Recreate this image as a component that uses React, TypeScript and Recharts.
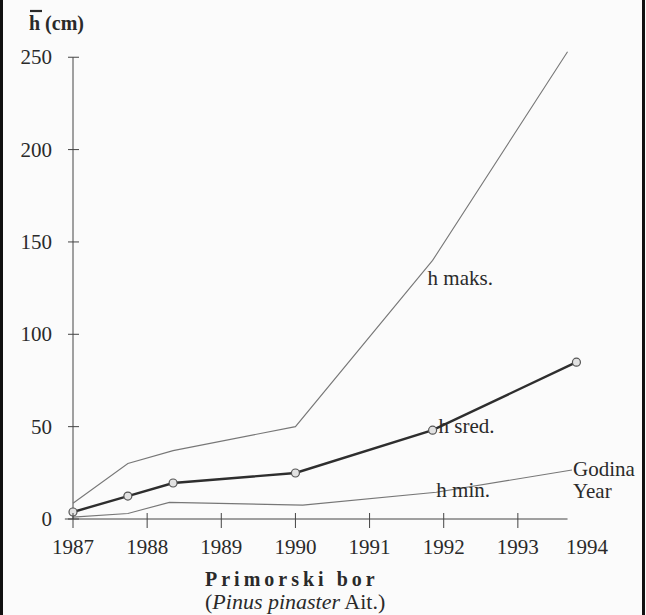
import { LineChart, Line, XAxis, YAxis, ReferenceLine, LabelList } from "recharts";

// h maks.
const maksYears = [1987, 1987.74, 1988.35, 1990, 1991.85, 1993.67];
const maksValues = [8.5, 30, 37, 50, 140, 253];
// h sred.
const sredYears = [1987, 1987.74, 1988.35, 1990, 1991.85, 1993.79];
const sredValues = [3.8, 12.4, 19.5, 24.9, 48.1, 84.9];
// h min.
const minYears = [1987, 1987.74, 1988.3, 1990.1, 1991.9, 1993.73];
const minValues = [1, 3, 9, 7.5, 14.5, 26.5];

const xTicks = [1987, 1988, 1989, 1990, 1991, 1992, 1993, 1994];
const yTicks = [0, 50, 100, 150, 200, 250];

const toRows = (xs: number[], ys: number[]) => xs.map((x, i) => ({ year: x, h: ys[i] }));
const maksData = toRows(maksYears, maksValues);
const sredData = toRows(sredYears, sredValues);
const minData = toRows(minYears, minValues);

const FONT = "'Liberation Serif', 'Times New Roman', serif";
const INK = "#2a2a2a";

const XTick = (props: any) => {
  const { x, y, payload } = props;
  const last = payload.value === 1994;
  return (
    <g>
      {!last && <line x1={x} x2={x} y1={y - 6} y2={y + 9} stroke="#444" strokeWidth={1} />}
      <text x={last ? x - 5 : x} y={y + 35} textAnchor="middle" fontFamily={FONT} fontSize={21} fill={INK}>
        {payload.value}
      </text>
    </g>
  );
};

const YTick = (props: any) => {
  const { x, y, payload } = props;
  return (
    <g>
      <line x1={x - 5} x2={x + 6} y1={y} y2={y} stroke="#444" strokeWidth={1} />
      <text x={x - 21} y={y + 7} textAnchor="end" fontFamily={FONT} fontSize={21} fill={INK}>
        {payload.value}
      </text>
    </g>
  );
};

const makeLabel = (index: number, lines: string[], dx: number, dy: number) => (props: any) => {
  if (props.index !== index) return null;
  return (
    <text x={props.x + dx} y={props.y + dy} fontFamily={FONT} fontSize={21} fill={INK}>
      {lines.map((t, i) => (
        <tspan key={i} x={props.x + dx} dy={i === 0 ? 0 : 22}>
          {t}
        </tspan>
      ))}
    </text>
  );
};

export default function App() {
  return (
    <div style={{ position: "absolute", left: 0, top: 0, width: 646, height: 615, background: "#fbfbfb", overflow: "hidden" }}>
      <LineChart width={646} height={615} margin={{ top: 48, right: 54, left: 0, bottom: 0 }}>
        <XAxis
          type="number"
          dataKey="year"
          domain={[1987, 1994]}
          ticks={xTicks}
          height={96}
          axisLine={false}
          tickLine={false}
          tickSize={0}
          tickMargin={0}
          tick={<XTick />}
          interval={0}
        />
        <YAxis
          type="number"
          dataKey="h"
          domain={[0, 255]}
          ticks={yTicks}
          width={73}
          axisLine={false}
          tickLine={false}
          tickSize={0}
          tickMargin={0}
          tick={<YTick />}
          interval={0}
        />
        <ReferenceLine segment={[{ x: 1986.89, y: 0 }, { x: 1993.67, y: 0 }]} stroke="#444" strokeWidth={1} ifOverflow="visible" />
        <ReferenceLine segment={[{ x: 1987, y: 0 }, { x: 1987, y: 250 }]} stroke="#444" strokeWidth={1} ifOverflow="visible" />
        <Line data={maksData} dataKey="h" type="linear" stroke="#777" strokeWidth={1.1} dot={false} isAnimationActive={false}>
          <LabelList dataKey="h" content={makeLabel(4, ["h maks."], -5, 25)} />
        </Line>
        <Line data={minData} dataKey="h" type="linear" stroke="#777" strokeWidth={1.1} dot={false} isAnimationActive={false}>
          <LabelList dataKey="h" content={makeLabel(4, ["h min."], 0, 5)} />
          <LabelList dataKey="h" content={makeLabel(5, ["Godina", "Year"], 1, 6)} />
        </Line>
        <Line
          data={sredData}
          dataKey="h"
          type="linear"
          stroke="#2e2e2e"
          strokeWidth={2.4}
          dot={{ r: 4, fill: "#e2e2e2", stroke: "#555", strokeWidth: 1.2 }}
          isAnimationActive={false}
        >
          <LabelList dataKey="h" content={makeLabel(4, ["h sred."], 6, 3)} />
        </Line>
      </LineChart>
      <svg width={646} height={615} style={{ position: "absolute", left: 0, top: 0, pointerEvents: "none" }}>
        <line x1={30} x2={42} y1={11} y2={11} stroke={INK} strokeWidth={2.2} />
        <text x={29} y={30} fontFamily={FONT} fontSize={20} fontWeight="bold" fill={INK}>
          h (cm)
        </text>
        <text x={205} y={586} fontFamily={FONT} fontSize={20} fontWeight="bold" letterSpacing={4} fill={INK}>
          Primorski bor
        </text>
        <text x={205} y={609} fontFamily={FONT} fontSize={22} fill={INK}>
          (<tspan fontStyle="italic">Pinus pinaster</tspan> Ait.)
        </text>
      </svg>
      <div style={{ position: "absolute", left: 0, top: 0, width: 3, height: 615, background: "#111" }} />
      <div style={{ position: "absolute", left: 642, top: 0, width: 3, height: 615, background: "#111" }} />
    </div>
  );
}
